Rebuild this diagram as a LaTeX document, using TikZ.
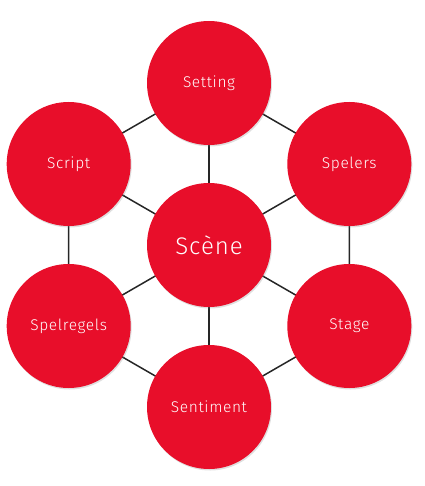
\documentclass[tikz,border=0pt]{standalone}
\usepackage{fontspec}
\setmainfont{Fira Sans Light}[BoldFont=Fira Sans, LetterSpace=4]
\usetikzlibrary{shadows}
\definecolor{scred}{RGB}{232,14,42}
\tikzset{
  bub/.style={circle, fill=scred, minimum size=124pt, inner sep=0pt, text=white,
    font=\fontsize{15.5}{18}\selectfont,
    drop shadow={opacity=0.25, shadow xshift=1pt, shadow yshift=-1.5pt}},
  link/.style={draw=black!85, line width=1.5pt}
}
\begin{document}
\begin{tikzpicture}[x=1pt,y=-1pt]
\useasboundingbox (0,0) rectangle (424,486);
\coordinate (c) at (209,245);
\path (c) ++(0,-162) coordinate (pa);
\path (c) ++(140.3,-81) coordinate (pb);
\path (c) ++(140.3,81) coordinate (pc);
\path (c) ++(0,162) coordinate (pd);
\path (c) ++(-140.3,81) coordinate (pe);
\path (c) ++(-140.3,-81) coordinate (pf);
\draw[link] (pa) -- (pb) -- (pc) -- (pd) -- (pe) -- (pf) -- cycle;
\foreach \p in {pa,pb,pc,pd,pe,pf} \draw[link] (c) -- (\p);
\node[bub] (setting) at (pa) {Setting};
\node[bub] (spelers) at (pb) {Spelers};
\node[bub] (stage) at (pc) {Stage};
\node[bub] (sentiment) at (pd) {Sentiment};
\node[bub] (spelregels) at (pe) {Spelregels};
\node[bub] (script) at (pf) {Script};
\node[bub, font=\fontsize{24}{28}\selectfont] (scene) at (c) {Scène};
\end{tikzpicture}
\end{document}
